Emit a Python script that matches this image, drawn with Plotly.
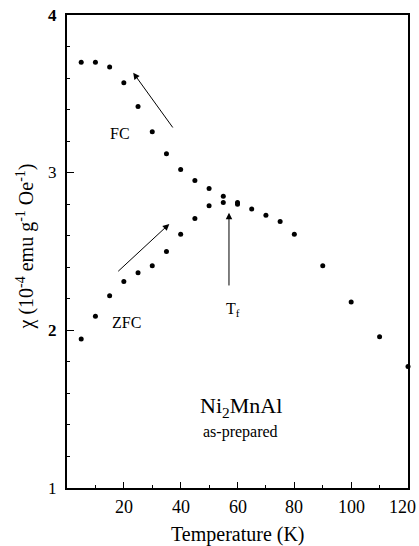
import plotly.graph_objects as go

# Field-cooled susceptibility, Ni2MnAl (as-prepared)
fc_temp = [5, 10, 15, 20, 25, 30, 35, 40, 45, 50, 55, 60, 65, 70, 75, 80, 90, 100, 110, 120]
fc_chi = [3.70, 3.70, 3.67, 3.57, 3.42, 3.26, 3.12, 3.02, 2.95, 2.90, 2.85, 2.81, 2.77,
          2.73, 2.69, 2.61, 2.41, 2.18, 1.96, 1.77]

# Zero-field-cooled susceptibility
zfc_temp = [5, 10, 15, 20, 25, 30, 35, 40, 45, 50, 55, 60]
zfc_chi = [1.945, 2.09, 2.22, 2.31, 2.365, 2.41, 2.50, 2.61, 2.71, 2.79, 2.81, 2.80]

x_ticks = [20, 40, 60, 80, 100, 120]
x_tick_text = ["20", "40", "60", "80", "100", "120"]
y_ticks = [1, 2, 3, 4]
y_tick_text = ["1", "<b>2</b>", "3", "<b>4</b>"]

FONT = "Liberation Serif"

fig = go.Figure()
marker = dict(color="black", size=5)
fig.add_trace(go.Scatter(x=fc_temp, y=fc_chi, mode="markers", marker=marker,
                         name="FC", showlegend=False, cliponaxis=False))
fig.add_trace(go.Scatter(x=zfc_temp, y=zfc_chi, mode="markers", marker=marker,
                         name="ZFC", showlegend=False))

arrow = dict(xref="x", yref="y", axref="x", ayref="y", text="", showarrow=True,
             arrowhead=2, arrowsize=1.3, arrowwidth=1, arrowcolor="black")
# FC arrow (cooling path, pointing up-left)
fig.add_annotation(x=23.3, y=3.634, ax=37.6, ay=3.277, **arrow)
# ZFC arrow (warming path, pointing up-right)
fig.add_annotation(x=36.0, y=2.675, ax=17.5, ay=2.366, **arrow)
# Freezing temperature marker
fig.add_annotation(x=57.0, y=2.745, ax=57.0, ay=2.275, **arrow)

label = dict(xref="x", yref="y", showarrow=False, font=dict(family=FONT, size=16, color="black"))
fig.add_annotation(x=18.6, y=3.25, text="FC", **label)
fig.add_annotation(x=20.8, y=2.047, text="ZFC", **label)
fig.add_annotation(x=58.4, y=2.13, text="T<sub>f</sub>", **label)
fig.add_annotation(x=61.2, y=1.514, text="Ni<sub>2</sub>MnAl",
                   xref="x", yref="y", showarrow=False,
                   font=dict(family=FONT, size=22, color="black"))
fig.add_annotation(x=61.2, y=1.356, text="as-prepared",
                   xref="x", yref="y", showarrow=False,
                   font=dict(family=FONT, size=16, color="black"))

# Tick labels, set in the serif face at each tick position
for val, txt in zip(x_ticks, x_tick_text):
    edge = val == x_ticks[-1]
    fig.add_annotation(x=val, y=0, xref="x", yref="paper", showarrow=False, text=txt,
                       xanchor="right" if edge else "center", xshift=10 if edge else 0,
                       yanchor="middle", yshift=-19,
                       font=dict(family=FONT, size=18, color="black"))
for val, txt in zip(y_ticks, y_tick_text):
    fig.add_annotation(x=0, y=val, xref="paper", yref="y", showarrow=False, text=txt,
                       xanchor="right", xshift=-8, yanchor="middle",
                       font=dict(family=FONT, size=17, color="black"))

# Axis titles
fig.add_annotation(x=0.5, y=0, xref="paper", yref="paper", showarrow=False,
                   text="Temperature (K)", yanchor="middle", yshift=-46, borderpad=0,
                   font=dict(family=FONT, size=20, color="black"))
fig.add_annotation(x=0, y=0.5, xref="paper", yref="paper", showarrow=False,
                   text="χ (10<sup>-4</sup> emu g<sup>-1</sup> Oe<sup>-1</sup>)",
                   textangle=-90, xanchor="center", yanchor="middle", xshift=-42, yshift=5,
                   font=dict(family=FONT, size=20, color="black"))

fig.update_layout(
    width=419, height=546,
    margin=dict(l=67, r=11, t=15, b=58, autoexpand=False),
    paper_bgcolor="white", plot_bgcolor="white",
    font=dict(family=FONT, size=17, color="black"),
    showlegend=False,
)
fig.update_xaxes(
    range=[0, 120], tickvals=x_ticks, showticklabels=False, ticks="inside", ticklen=6,
    tickwidth=1.2, tickcolor="black", showline=True, linecolor="black", linewidth=2,
    mirror=True, showgrid=False, zeroline=False, automargin=False,
    minor=dict(dtick=10, tick0=0, ticks="inside", ticklen=3, tickcolor="black", showgrid=False),
)
fig.update_yaxes(
    range=[1, 4], tickvals=y_ticks, showticklabels=False, ticks="inside", ticklen=7,
    tickwidth=1.2, tickcolor="black", showline=True, linecolor="black", linewidth=2,
    mirror=True, showgrid=False, zeroline=False, automargin=False,
    minor=dict(dtick=0.2, tick0=1, ticks="inside", ticklen=3, tickcolor="black", showgrid=False),
)

fig.write_html("out.html")
